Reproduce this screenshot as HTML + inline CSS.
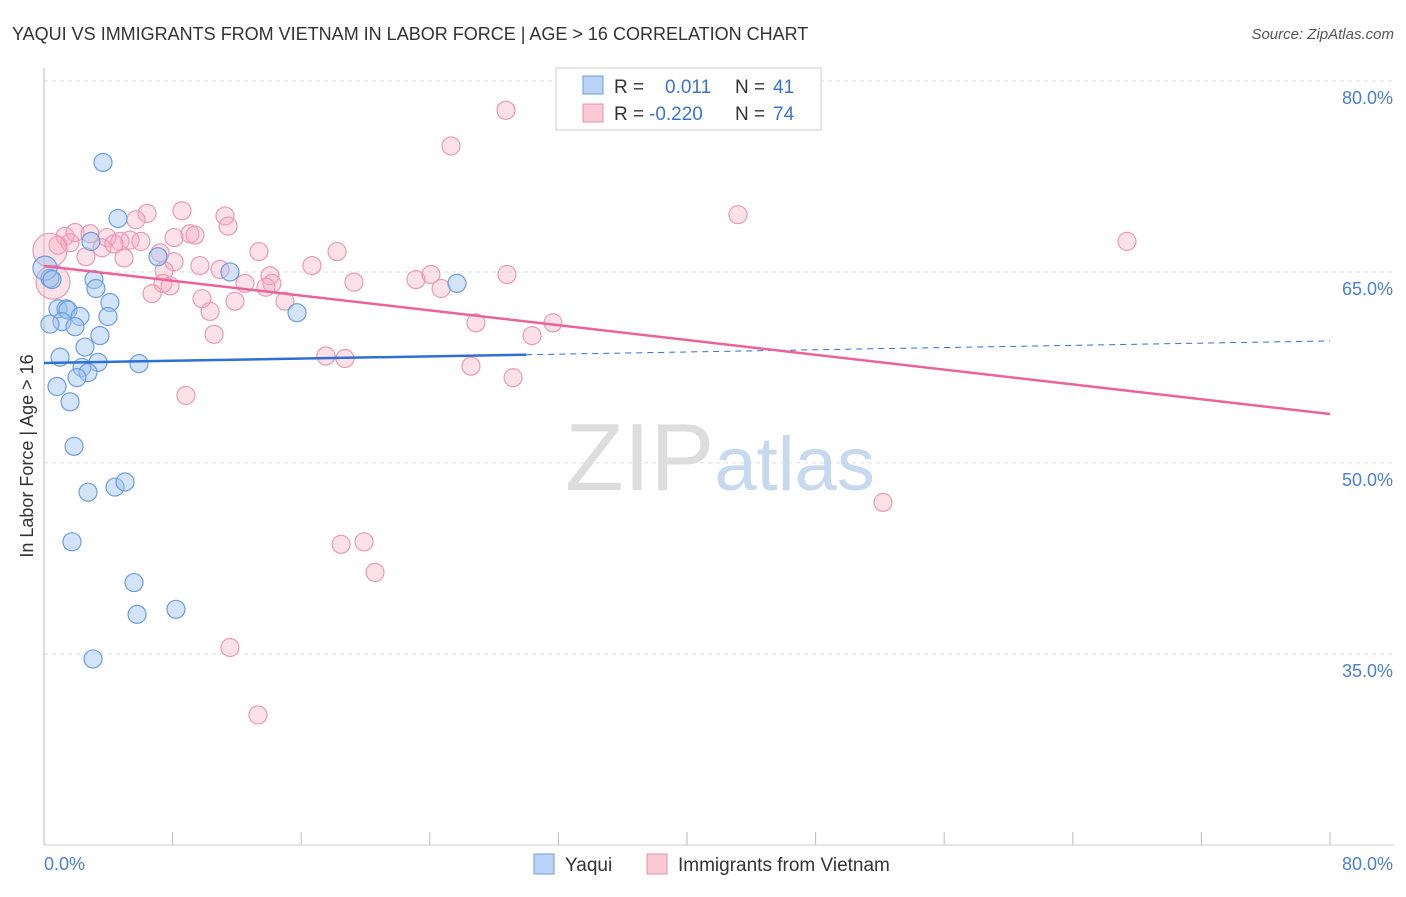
<!DOCTYPE html>
<html><head><meta charset="utf-8"><style>
body{margin:0;background:#fff;font-family:"Liberation Sans",sans-serif;}
svg text{font-family:"Liberation Sans",sans-serif;}
</style></head><body>
<svg id="chart" width="1406" height="892" xmlns="http://www.w3.org/2000/svg">
<text x="12" y="40" font-size="18" fill="#333">YAQUI VS IMMIGRANTS FROM VIETNAM IN LABOR FORCE | AGE &gt; 16 CORRELATION CHART</text>
<text x="1394" y="39" font-size="15" fill="#555" text-anchor="end" font-style="italic">Source: ZipAtlas.com</text>
<g id="grid"></g>
<text x="720" y="490" font-size="96" text-anchor="middle" fill="#ddd" font-family="Liberation Serif,serif">ZIP<tspan fill="#c8d8ef" font-family="Liberation Sans,sans-serif" font-size="76">atlas</tspan></text>
<line x1="44" y1="68" x2="44" y2="845" stroke="#bbb"/>
<line x1="44" y1="845" x2="1394" y2="845" stroke="#ccc"/>
<g id="xticks"></g>
<g id="ylabels"></g>
<text x="44" y="870" font-size="18" fill="#4a7fd4">0.0%</text>
<text x="1393" y="870" font-size="18" fill="#4a7fd4" text-anchor="end">80.0%</text>
<text x="0" y="0" font-size="18" fill="#333" text-anchor="middle" transform="translate(33,456) rotate(-90)">In Labor Force | Age &gt; 16</text>
<g id="pts-pink"></g>
<g id="pts-blue"></g>
<g id="trends"></g>
<g>
<rect x="556" y="68" width="265" height="62" fill="#fff" stroke="#ccc"/>
<rect x="583" y="76" width="20" height="18" fill="#b9d2f5" stroke="#6a9ee0"/>
<rect x="583" y="104" width="20" height="18" fill="#fbc9d6" stroke="#e890aa"/>
<text x="614" y="93" font-size="19" fill="#333">R =</text>
<text x="665" y="93" font-size="19" fill="#3b74d0">0.011</text>
<text x="735" y="93" font-size="19" fill="#333">N =</text>
<text x="773" y="93" font-size="19" fill="#3b74d0">41</text>
<text x="614" y="120" font-size="19" fill="#333">R =</text>
<text x="649" y="120" font-size="19" fill="#3b74d0">-0.220</text>
<text x="735" y="120" font-size="19" fill="#333">N =</text>
<text x="773" y="120" font-size="19" fill="#3b74d0">74</text>
</g>
<g>
<rect x="534" y="854" width="20" height="20" fill="#b9d2f5" stroke="#6a9ee0"/>
<text x="565" y="871" font-size="19" fill="#333">Yaqui</text>
<rect x="647" y="854" width="20" height="20" fill="#fbc9d6" stroke="#e890aa"/>
<text x="678" y="871" font-size="19" fill="#333">Immigrants from Vietnam</text>
</g>
</svg>
<script>
const yTicks=[80,65,50,35];
const yTickLabels=["80.0%","65.0%","50.0%","35.0%"];
const xTicks=[0,8,16,24,32,40,48,56,64,72,80];
const blueX=[3.67,4.6,2.92,7.09,11.57,0.37,3.11,3.23,4.1,25.69,0.87,1.37,1.49,1.12,2.24,0.37,1.93,3.98,15.74,3.48,2.55,1.0,5.91,3.36,2.36,2.74,2.05,0.81,1.62,1.87,2.74,4.42,5.04,1.74,5.6,5.79,8.21,3.05,0.06,0.5];
const blueY=[73.6,69.2,67.4,66.2,65.0,64.5,64.4,63.7,62.6,64.1,62.1,62.1,62.0,61.1,61.5,60.9,60.7,61.5,61.8,60.0,59.1,58.3,57.8,57.9,57.5,57.1,56.7,56.0,54.8,51.3,47.7,48.1,48.5,43.8,40.6,38.1,38.5,34.6,65.3,64.4];
const pinkX=[28.74,25.32,43.17,67.37,52.19,8.58,6.41,11.26,5.72,11.45,1.31,1.93,2.86,3.92,0.87,1.62,4.73,5.35,6.03,7.22,8.09,9.08,9.39,13.37,18.23,16.67,9.7,10.95,2.61,4.98,3.61,4.35,8.09,7.47,7.4,7.84,12.5,14.06,14.18,13.81,19.28,23.14,24.07,24.7,28.8,6.72,9.83,11.88,10.33,14.99,26.87,31.66,30.36,10.58,17.54,18.72,26.56,29.18,8.83,18.48,19.91,20.59,11.57,13.31,0.37,0.56];
const pinkY=[77.7,74.9,69.5,67.4,46.9,69.8,69.6,69.4,69.1,68.6,67.8,68.1,68.0,67.7,67.1,67.3,67.4,67.5,67.4,66.5,67.7,68.0,67.9,66.6,66.6,65.5,65.5,65.2,66.2,66.1,66.9,67.2,65.8,65.1,64.1,63.9,64.1,64.7,64.1,63.8,64.2,64.4,64.8,63.7,64.8,63.3,62.9,62.7,61.9,62.7,61.0,61.0,60.0,60.1,58.4,58.2,57.6,56.7,55.3,43.6,43.8,41.4,35.5,30.2,66.7,64.2];
const pinkBig=[64,65];
const blueTrend=[57.85,59.58];
const blueSolidEnd=30;
const pinkTrend=[65.47,53.84];
const NS="http://www.w3.org/2000/svg";
const sx=v=>44+v*16.075;
const sy=v=>81+(80-v)*12.73;
function mk(tag,attrs,parent){const e=document.createElementNS(NS,tag);for(const k in attrs)e.setAttribute(k,attrs[k]);parent.appendChild(e);return e;}
const grid=document.getElementById('grid'),yl=document.getElementById('ylabels'),xt=document.getElementById('xticks');
yTicks.forEach((t,i)=>{
 const l=mk('line',{x1:44,x2:1394,y1:sy(t),y2:sy(t),stroke:'#ddd','stroke-dasharray':'4,4'},grid);
 
 
 const tx=mk('text',{x:1393,y:sy(t)+23,'font-size':18,fill:'#4a7fd4','text-anchor':'end'},yl);
 tx.textContent=yTickLabels[i];
 
 
});
xTicks.forEach(t=>{
 const l=mk('line',{x1:sx(t),x2:sx(t),y1:832,y2:845,stroke:'#bbb'},xt);
 
 
});
const gp=document.getElementById('pts-pink');
pinkX.forEach((x,i)=>{
 const r=pinkBig.includes(i)?17:9;
 const c=mk('circle',{cx:sx(x),cy:sy(pinkY[i]),r:r,fill:'rgba(246,170,192,0.35)',stroke:'#eb9ab2','stroke-width':1.2},gp);
 
 
});
const gb=document.getElementById('pts-blue');
blueX.forEach((x,i)=>{
 const c=mk('circle',{cx:sx(x),cy:sy(blueY[i]),r:i==38?12:9,fill:'rgba(160,195,240,0.45)',stroke:'#6a9ee0','stroke-width':1.2},gb);
 
 
});
const tr=document.getElementById('trends');
const by=x=>blueTrend[0]+(blueTrend[1]-blueTrend[0])*x/80;
let l1=mk('line',{x1:sx(0),y1:sy(by(0)),x2:sx(blueSolidEnd),y2:sy(by(blueSolidEnd)),stroke:'#2f6fd6','stroke-width':2.5},tr);


let l2=mk('line',{x1:sx(blueSolidEnd),y1:sy(by(blueSolidEnd)),x2:sx(80),y2:sy(by(80)),stroke:'#2f6fd6','stroke-width':1,'stroke-dasharray':'6,5'},tr);


let l3=mk('line',{x1:sx(0),y1:sy(pinkTrend[0]),x2:sx(80),y2:sy(pinkTrend[1]),stroke:'#e8649a','stroke-width':2.5},tr);


</script>
</body></html>
